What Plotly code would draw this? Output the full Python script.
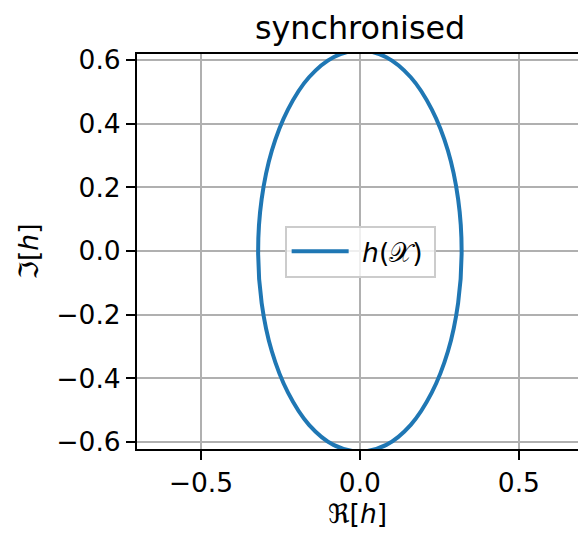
import plotly.graph_objects as go

re_h = [0.320, 0.309, 0.277, 0.226, 0.160, 0.083, 0.000, -0.083, -0.160, -0.226, -0.277, -0.309,
        -0.320, -0.309, -0.277, -0.226, -0.160, -0.083, 0.000, 0.083, 0.160, 0.226, 0.277, 0.309, 0.320]
im_h = [0.000, 0.163, 0.315, 0.445, 0.546, 0.609, 0.630, 0.609, 0.546, 0.445, 0.315, 0.163,
        0.000, -0.163, -0.315, -0.445, -0.546, -0.609, -0.630, -0.609, -0.546, -0.445, -0.315, -0.163, 0.000]

x_ticks = [-0.5, 0.0, 0.5]
y_ticks = [-0.6, -0.4, -0.2, 0.0, 0.2, 0.4, 0.6]

FONT = "DejaVu Sans"
FS = 26.5

fig = go.Figure()
fig.add_trace(go.Scatter(x=re_h, y=im_h, mode="lines",
                         line=dict(color="#1f77b4", width=4, shape="spline", smoothing=1.0),
                         name="\u00a0<i>h</i>(𝒳)\u2009", showlegend=True))

fig.update_layout(
    width=578, height=535,
    margin=dict(l=137, r=0, t=54, b=86),
    paper_bgcolor="white", plot_bgcolor="white",
    font=dict(family=FONT, size=FS, color="black"),
    title=dict(text="synchronised", x=0.623, xanchor="center", y=0.948, yanchor="middle",
               font=dict(size=31.8, family=FONT, color="black")),
    showlegend=True,
    legend=dict(x=0.506, y=0.5, xanchor="center", yanchor="middle",
                bgcolor="rgba(255,255,255,0.8)", bordercolor="#cccccc", borderwidth=2,
                itemwidth=57,
                font=dict(size=FS, family=FONT)),
)
fig.update_xaxes(range=[-0.701, 0.686], tickvals=x_ticks, ticktext=["−0.5", "0.0", "0.5"],
                 showgrid=True, gridcolor="#b0b0b0", gridwidth=2,
                 zeroline=False, showline=True, linecolor="black", linewidth=2, mirror=True,
                 ticks="outside", ticklen=9, tickwidth=2, tickcolor="black",
                 title=dict(text="ℜ[<i>h</i>]", font=dict(size=FS), standoff=8))
fig.update_yaxes(range=[-0.622, 0.619], tickvals=y_ticks,
                 ticktext=["−0.6", "−0.4", "−0.2", "0.0", "0.2", "0.4", "0.6"],
                 showgrid=True, gridcolor="#b0b0b0", gridwidth=2,
                 zeroline=False, showline=True, linecolor="black", linewidth=2, mirror=False,
                 ticks="outside", ticklen=9, tickwidth=2, tickcolor="black",
                 title=dict(text="ℑ[<i>h</i>]", font=dict(size=FS), standoff=10))

fig.write_html("out.html")
